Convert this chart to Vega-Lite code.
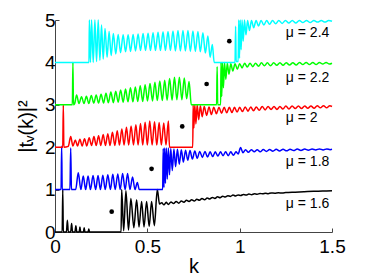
{
"$schema": "https://vega.github.io/schema/vega-lite/v6.json",
"width": 277, "height": 212,
"autosize": {"type": "none"},
"padding": {"left": 55, "top": 20, "right": 36, "bottom": 45},
"config": {"view": {"stroke": null}, "font": "Liberation Sans",
 "axis": {"grid": false, "domainColor": "#444", "tickColor": "#444", "labelColor": "black", "titleColor": "black", "labelFont": "Liberation Sans", "titleFont": "Liberation Sans", "labelFontSize": 19, "titleFontSize": 20, "titleFontWeight": "normal", "tickSize": -4, "labelOverlap": false, "labelFlush": false}},
"datasets": {
"curves": [
{"k":0,"t":0,"m":"1.6"},{"k":0.039,"t":0,"m":"1.6"},{"k":0.042,"t":1.0,"m":"1.6"},{"k":0.045,"t":0,"m":"1.6"},{"k":0.062,"t":0,"m":"1.6"},{"k":0.067,"t":0.28,"m":"1.6"},{"k":0.072,"t":0,"m":"1.6"},{"k":0.085,"t":0,"m":"1.6"},{"k":0.09,"t":0.2,"m":"1.6"},{"k":0.095,"t":0,"m":"1.6"},{"k":0.108,"t":0,"m":"1.6"},{"k":0.113,"t":0.15,"m":"1.6"},{"k":0.118,"t":0,"m":"1.6"},{"k":0.131,"t":0,"m":"1.6"},{"k":0.135,"t":0.12,"m":"1.6"},{"k":0.139,"t":0,"m":"1.6"},{"k":0.154,"t":0,"m":"1.6"},{"k":0.158,"t":0.1,"m":"1.6"},{"k":0.162,"t":0,"m":"1.6"},{"k":0.179,"t":0,"m":"1.6"},{"k":0.183,"t":0.07,"m":"1.6"},{"k":0.187,"t":0,"m":"1.6"},{"k":0.358,"t":0,"m":"1.6"},{"k":0.361,"t":1.0,"m":"1.6"},{"k":0.372,"t":0.03,"m":"1.6"},{"k":0.384,"t":0.97,"m":"1.6"},{"k":0.398,"t":0.05,"m":"1.6"},{"k":0.411,"t":0.79,"m":"1.6"},{"k":0.427,"t":0.1,"m":"1.6"},{"k":0.442,"t":0.76,"m":"1.6"},{"k":0.455,"t":0.12,"m":"1.6"},{"k":0.469,"t":0.72,"m":"1.6"},{"k":0.482,"t":0.12,"m":"1.6"},{"k":0.496,"t":0.72,"m":"1.6"},{"k":0.51,"t":0.13,"m":"1.6"},{"k":0.523,"t":0.72,"m":"1.6"},{"k":0.538,"t":0.15,"m":"1.6"},{"k":0.554,"t":1.0,"m":"1.6"},{"k":0.566,"t":0.66,"m":"1.6"},
{"k":0.578,"t":0.69,"m":"1.6"},{"k":0.59,"t":0.64,"m":"1.6"},{"k":0.602,"t":0.7,"m":"1.6"},{"k":0.614,"t":0.65,"m":"1.6"},{"k":0.628,"t":0.71,"m":"1.6"},{"k":0.642,"t":0.67,"m":"1.6"},{"k":0.656,"t":0.72,"m":"1.6"},{"k":0.67,"t":0.68,"m":"1.6"},{"k":0.684,"t":0.73,"m":"1.6"},{"k":0.698,"t":0.7,"m":"1.6"},{"k":0.712,"t":0.75,"m":"1.6"},{"k":0.726,"t":0.72,"m":"1.6"},{"k":0.74,"t":0.76,"m":"1.6"},{"k":0.754,"t":0.73,"m":"1.6"},{"k":0.768,"t":0.77,"m":"1.6"},{"k":0.782,"t":0.75,"m":"1.6"},{"k":0.796,"t":0.79,"m":"1.6"},{"k":0.81,"t":0.76,"m":"1.6"},{"k":0.824,"t":0.8,"m":"1.6"},{"k":0.838,"t":0.78,"m":"1.6"},{"k":0.852,"t":0.815,"m":"1.6"},{"k":0.866,"t":0.79,"m":"1.6"},{"k":0.88,"t":0.83,"m":"1.6"},{"k":0.894,"t":0.81,"m":"1.6"},{"k":0.908,"t":0.845,"m":"1.6"},{"k":0.922,"t":0.825,"m":"1.6"},{"k":0.936,"t":0.855,"m":"1.6"},{"k":0.95,"t":0.84,"m":"1.6"},{"k":0.964,"t":0.87,"m":"1.6"},{"k":0.978,"t":0.85,"m":"1.6"},{"k":0.992,"t":0.875,"m":"1.6"},{"k":1.006,"t":0.86,"m":"1.6"},{"k":1.02,"t":0.885,"m":"1.6"},{"k":1.035,"t":0.87,"m":"1.6"},{"k":1.05,"t":0.895,"m":"1.6"},{"k":1.065,"t":0.88,"m":"1.6"},{"k":1.08,"t":0.9,"m":"1.6"},{"k":1.095,"t":0.89,"m":"1.6"},{"k":1.11,"t":0.91,"m":"1.6"},{"k":1.125,"t":0.9,"m":"1.6"},{"k":1.14,"t":0.915,"m":"1.6"},{"k":1.155,"t":0.905,"m":"1.6"},{"k":1.17,"t":0.92,"m":"1.6"},{"k":1.19,"t":0.915,"m":"1.6"},{"k":1.21,"t":0.925,"m":"1.6"},{"k":1.23,"t":0.92,"m":"1.6"},{"k":1.25,"t":0.93,"m":"1.6"},{"k":1.3,"t":0.94,"m":"1.6"},{"k":1.35,"t":0.95,"m":"1.6"},{"k":1.4,"t":0.96,"m":"1.6"},{"k":1.45,"t":0.965,"m":"1.6"},{"k":1.5,"t":0.975,"m":"1.6"},
{"k":0,"t":1,"m":"1.8"},{"k":0.033,"t":1,"m":"1.8"},{"k":0.036,"t":2.02,"m":"1.8"},{"k":0.039,"t":1,"m":"1.8"},{"k":0.081,"t":1,"m":"1.8"},{"k":0.085,"t":1.98,"m":"1.8"},{"k":0.089,"t":1,"m":"1.8"},{"k":0.112,"t":1,"m":"1.8"},{"k":0.126,"t":1.4,"m":"1.8"},{"k":0.14,"t":1,"m":"1.8"},{"k":0.153,"t":1.32,"m":"1.8"},{"k":0.166,"t":1,"m":"1.8"},{"k":0.179,"t":1.32,"m":"1.8"},{"k":0.192,"t":1,"m":"1.8"},{"k":0.206,"t":1.33,"m":"1.8"},{"k":0.22,"t":1,"m":"1.8"},{"k":0.233,"t":1.33,"m":"1.8"},{"k":0.246,"t":1,"m":"1.8"},{"k":0.259,"t":1.34,"m":"1.8"},{"k":0.272,"t":1,"m":"1.8"},{"k":0.286,"t":1.35,"m":"1.8"},{"k":0.3,"t":1,"m":"1.8"},{"k":0.313,"t":1.36,"m":"1.8"},{"k":0.326,"t":1,"m":"1.8"},{"k":0.34,"t":1.37,"m":"1.8"},{"k":0.353,"t":1,"m":"1.8"},{"k":0.366,"t":1.38,"m":"1.8"},{"k":0.38,"t":1,"m":"1.8"},{"k":0.393,"t":1.38,"m":"1.8"},{"k":0.406,"t":1,"m":"1.8"},{"k":0.42,"t":1.3,"m":"1.8"},{"k":0.433,"t":1,"m":"1.8"},{"k":0.446,"t":1.17,"m":"1.8"},{"k":0.456,"t":1,"m":"1.8"},{"k":0.583,"t":1,"m":"1.8"},
{"k":0.586,"t":1.97,"m":"1.8"},{"k":0.59,"t":1.05,"m":"1.8"},{"k":0.594,"t":1.98,"m":"1.8"},{"k":0.598,"t":1.15,"m":"1.8"},{"k":0.603,"t":1.98,"m":"1.8"},{"k":0.608,"t":1.25,"m":"1.8"},{"k":0.614,"t":1.98,"m":"1.8"},{"k":0.62,"t":1.35,"m":"1.8"},{"k":0.627,"t":1.97,"m":"1.8"},{"k":0.635,"t":1.45,"m":"1.8"},{"k":0.644,"t":1.96,"m":"1.8"},{"k":0.653,"t":1.54,"m":"1.8"},{"k":0.663,"t":1.95,"m":"1.8"},{"k":0.673,"t":1.6,"m":"1.8"},{"k":0.684,"t":1.94,"m":"1.8"},{"k":0.695,"t":1.65,"m":"1.8"},{"k":0.707,"t":1.93,"m":"1.8"},{"k":0.719,"t":1.69,"m":"1.8"},{"k":0.731,"t":1.92,"m":"1.8"},{"k":0.744,"t":1.72,"m":"1.8"},{"k":0.757,"t":1.91,"m":"1.8"},{"k":0.77,"t":1.74,"m":"1.8"},{"k":0.784,"t":1.9,"m":"1.8"},{"k":0.798,"t":1.76,"m":"1.8"},{"k":0.812,"t":1.9,"m":"1.8"},{"k":0.826,"t":1.77,"m":"1.8"},{"k":0.84,"t":1.89,"m":"1.8"},{"k":0.854,"t":1.78,"m":"1.8"},{"k":0.868,"t":1.89,"m":"1.8"},{"k":0.882,"t":1.79,"m":"1.8"},{"k":0.896,"t":1.89,"m":"1.8"},{"k":0.91,"t":1.8,"m":"1.8"},{"k":0.924,"t":1.89,"m":"1.8"},{"k":0.938,"t":1.8,"m":"1.8"},{"k":0.952,"t":1.89,"m":"1.8"},{"k":0.966,"t":1.81,"m":"1.8"},{"k":0.98,"t":1.89,"m":"1.8"},{"k":0.992,"t":1.84,"m":"1.8"},{"k":1.005,"t":1.99,"m":"1.8"},{"k":1.018,"t":1.87,"m":"1.8"},{"k":1.032,"t":1.94,"m":"1.8"},{"k":1.047,"t":1.88,"m":"1.8"},{"k":1.063,"t":1.94,"m":"1.8"},{"k":1.079,"t":1.89,"m":"1.8"},{"k":1.095,"t":1.94,"m":"1.8"},{"k":1.111,"t":1.89,"m":"1.8"},{"k":1.128,"t":1.945,"m":"1.8"},{"k":1.145,"t":1.9,"m":"1.8"},{"k":1.162,"t":1.945,"m":"1.8"},{"k":1.18,"t":1.905,"m":"1.8"},{"k":1.198,"t":1.95,"m":"1.8"},{"k":1.216,"t":1.91,"m":"1.8"},{"k":1.235,"t":1.95,"m":"1.8"},{"k":1.254,"t":1.915,"m":"1.8"},{"k":1.273,"t":1.95,"m":"1.8"},{"k":1.292,"t":1.92,"m":"1.8"},{"k":1.312,"t":1.955,"m":"1.8"},{"k":1.332,"t":1.925,"m":"1.8"},{"k":1.352,"t":1.955,"m":"1.8"},{"k":1.372,"t":1.93,"m":"1.8"},{"k":1.392,"t":1.955,"m":"1.8"},{"k":1.412,"t":1.935,"m":"1.8"},{"k":1.432,"t":1.96,"m":"1.8"},{"k":1.452,"t":1.935,"m":"1.8"},{"k":1.472,"t":1.96,"m":"1.8"},{"k":1.49,"t":1.94,"m":"1.8"},{"k":1.5,"t":1.95,"m":"1.8"},
{"k":0,"t":2,"m":"2"},{"k":0.042,"t":2,"m":"2"},{"k":0.045,"t":3.0,"m":"2"},{"k":0.048,"t":2,"m":"2"},{"k":0.072,"t":2.02,"m":"2"},{"k":0.085,"t":2.25,"m":"2"},{"k":0.097,"t":2.03,"m":"2"},{"k":0.11,"t":2.17,"m":"2"},{"k":0.122,"t":2.03,"m":"2"},{"k":0.135,"t":2.19,"m":"2"},{"k":0.147,"t":2.03,"m":"2"},{"k":0.16,"t":2.2,"m":"2"},{"k":0.172,"t":2.03,"m":"2"},{"k":0.185,"t":2.22,"m":"2"},{"k":0.198,"t":2.04,"m":"2"},{"k":0.211,"t":2.25,"m":"2"},{"k":0.223,"t":2.04,"m":"2"},{"k":0.236,"t":2.27,"m":"2"},{"k":0.248,"t":2.04,"m":"2"},{"k":0.261,"t":2.3,"m":"2"},{"k":0.273,"t":2.04,"m":"2"},{"k":0.286,"t":2.32,"m":"2"},{"k":0.298,"t":2.04,"m":"2"},{"k":0.311,"t":2.35,"m":"2"},{"k":0.324,"t":2.04,"m":"2"},{"k":0.337,"t":2.39,"m":"2"},{"k":0.349,"t":2.05,"m":"2"},{"k":0.362,"t":2.43,"m":"2"},{"k":0.374,"t":2.05,"m":"2"},{"k":0.387,"t":2.47,"m":"2"},{"k":0.399,"t":2.05,"m":"2"},{"k":0.412,"t":2.5,"m":"2"},{"k":0.425,"t":2.05,"m":"2"},{"k":0.438,"t":2.53,"m":"2"},{"k":0.45,"t":2.05,"m":"2"},{"k":0.463,"t":2.56,"m":"2"},{"k":0.475,"t":2.05,"m":"2"},{"k":0.488,"t":2.59,"m":"2"},{"k":0.5,"t":2.05,"m":"2"},{"k":0.513,"t":2.62,"m":"2"},{"k":0.526,"t":2.05,"m":"2"},{"k":0.539,"t":2.6,"m":"2"},{"k":0.551,"t":2.05,"m":"2"},{"k":0.564,"t":2.58,"m":"2"},{"k":0.576,"t":2.05,"m":"2"},{"k":0.589,"t":2.57,"m":"2"},{"k":0.601,"t":2.05,"m":"2"},{"k":0.614,"t":2.62,"m":"2"},{"k":0.62,"t":2,"m":"2"},{"k":0.746,"t":2,"m":"2"},
{"k":0.748,"t":3.0,"m":"2"},{"k":0.752,"t":2.45,"m":"2"},{"k":0.757,"t":3.0,"m":"2"},{"k":0.763,"t":2.55,"m":"2"},{"k":0.77,"t":3.0,"m":"2"},{"k":0.778,"t":2.65,"m":"2"},{"k":0.787,"t":2.98,"m":"2"},{"k":0.797,"t":2.72,"m":"2"},{"k":0.808,"t":2.96,"m":"2"},{"k":0.821,"t":2.75,"m":"2"},{"k":0.834,"t":2.95,"m":"2"},{"k":0.847,"t":2.77,"m":"2"},{"k":0.86,"t":2.94,"m":"2"},{"k":0.874,"t":2.79,"m":"2"},{"k":0.888,"t":2.94,"m":"2"},{"k":0.902,"t":2.8,"m":"2"},{"k":0.916,"t":2.94,"m":"2"},{"k":0.93,"t":2.81,"m":"2"},{"k":0.944,"t":2.94,"m":"2"},{"k":0.958,"t":2.82,"m":"2"},{"k":0.972,"t":2.94,"m":"2"},{"k":0.986,"t":2.83,"m":"2"},{"k":1.0,"t":2.94,"m":"2"},{"k":1.015,"t":2.84,"m":"2"},{"k":1.03,"t":2.95,"m":"2"},{"k":1.045,"t":2.85,"m":"2"},{"k":1.06,"t":2.95,"m":"2"},{"k":1.075,"t":2.86,"m":"2"},{"k":1.09,"t":2.95,"m":"2"},{"k":1.106,"t":2.87,"m":"2"},{"k":1.122,"t":2.96,"m":"2"},{"k":1.138,"t":2.88,"m":"2"},{"k":1.154,"t":2.96,"m":"2"},{"k":1.17,"t":2.89,"m":"2"},{"k":1.186,"t":2.96,"m":"2"},{"k":1.202,"t":2.89,"m":"2"},{"k":1.218,"t":2.96,"m":"2"},{"k":1.234,"t":2.9,"m":"2"},{"k":1.25,"t":2.97,"m":"2"},{"k":1.267,"t":2.9,"m":"2"},{"k":1.284,"t":2.97,"m":"2"},{"k":1.301,"t":2.91,"m":"2"},{"k":1.318,"t":2.97,"m":"2"},{"k":1.335,"t":2.91,"m":"2"},{"k":1.352,"t":2.97,"m":"2"},{"k":1.369,"t":2.92,"m":"2"},{"k":1.386,"t":2.97,"m":"2"},{"k":1.403,"t":2.92,"m":"2"},{"k":1.42,"t":2.98,"m":"2"},{"k":1.437,"t":2.93,"m":"2"},{"k":1.454,"t":2.98,"m":"2"},{"k":1.471,"t":2.93,"m":"2"},{"k":1.488,"t":2.98,"m":"2"},{"k":1.5,"t":2.96,"m":"2"},
{"k":0,"t":3,"m":"2.2"},{"k":0.094,"t":3,"m":"2.2"},{"k":0.097,"t":4.0,"m":"2.2"},{"k":0.1,"t":3,"m":"2.2"},{"k":0.106,"t":3.02,"m":"2.2"},{"k":0.117,"t":3.23,"m":"2.2"},{"k":0.13,"t":3.03,"m":"2.2"},{"k":0.1435,"t":3.19,"m":"2.2"},{"k":0.157,"t":3.03,"m":"2.2"},{"k":0.17,"t":3.2,"m":"2.2"},{"k":0.183,"t":3.03,"m":"2.2"},{"k":0.1965,"t":3.22,"m":"2.2"},{"k":0.21,"t":3.04,"m":"2.2"},{"k":0.223,"t":3.23,"m":"2.2"},{"k":0.236,"t":3.04,"m":"2.2"},{"k":0.2495,"t":3.25,"m":"2.2"},{"k":0.263,"t":3.04,"m":"2.2"},{"k":0.276,"t":3.27,"m":"2.2"},{"k":0.289,"t":3.05,"m":"2.2"},{"k":0.3025,"t":3.3,"m":"2.2"},{"k":0.316,"t":3.05,"m":"2.2"},{"k":0.329,"t":3.32,"m":"2.2"},{"k":0.342,"t":3.06,"m":"2.2"},{"k":0.3555,"t":3.35,"m":"2.2"},{"k":0.369,"t":3.06,"m":"2.2"},{"k":0.382,"t":3.37,"m":"2.2"},{"k":0.395,"t":3.07,"m":"2.2"},{"k":0.4085,"t":3.4,"m":"2.2"},{"k":0.422,"t":3.07,"m":"2.2"},{"k":0.435,"t":3.42,"m":"2.2"},{"k":0.448,"t":3.08,"m":"2.2"},{"k":0.4615,"t":3.45,"m":"2.2"},{"k":0.475,"t":3.08,"m":"2.2"},{"k":0.488,"t":3.47,"m":"2.2"},{"k":0.501,"t":3.09,"m":"2.2"},{"k":0.5145,"t":3.5,"m":"2.2"},{"k":0.528,"t":3.09,"m":"2.2"},{"k":0.541,"t":3.53,"m":"2.2"},{"k":0.554,"t":3.1,"m":"2.2"},{"k":0.5675,"t":3.56,"m":"2.2"},{"k":0.581,"t":3.1,"m":"2.2"},{"k":0.594,"t":3.58,"m":"2.2"},{"k":0.607,"t":3.11,"m":"2.2"},{"k":0.6205,"t":3.62,"m":"2.2"},{"k":0.634,"t":3.11,"m":"2.2"},{"k":0.647,"t":3.65,"m":"2.2"},{"k":0.66,"t":3.12,"m":"2.2"},{"k":0.6735,"t":3.65,"m":"2.2"},{"k":0.687,"t":3.12,"m":"2.2"},{"k":0.7,"t":3.63,"m":"2.2"},{"k":0.713,"t":3.14,"m":"2.2"},{"k":0.726,"t":3.55,"m":"2.2"},{"k":0.738,"t":3,"m":"2.2"},{"k":0.875,"t":3,"m":"2.2"},{"k":0.878,"t":3.9,"m":"2.2"},{"k":0.881,"t":3,"m":"2.2"},{"k":0.897,"t":3,"m":"2.2"},
{"k":0.899,"t":4.0,"m":"2.2"},{"k":0.903,"t":3.2,"m":"2.2"},{"k":0.907,"t":4.0,"m":"2.2"},{"k":0.912,"t":3.4,"m":"2.2"},{"k":0.918,"t":4.0,"m":"2.2"},{"k":0.925,"t":3.6,"m":"2.2"},{"k":0.933,"t":3.98,"m":"2.2"},{"k":0.942,"t":3.72,"m":"2.2"},{"k":0.952,"t":3.97,"m":"2.2"},{"k":0.963,"t":3.8,"m":"2.2"},{"k":0.975,"t":3.97,"m":"2.2"},{"k":0.987,"t":3.84,"m":"2.2"},{"k":1.0,"t":3.97,"m":"2.2"},{"k":1.013,"t":3.87,"m":"2.2"},{"k":1.027,"t":3.98,"m":"2.2"},{"k":1.041,"t":3.89,"m":"2.2"},{"k":1.056,"t":3.98,"m":"2.2"},{"k":1.071,"t":3.9,"m":"2.2"},{"k":1.086,"t":3.98,"m":"2.2"},{"k":1.102,"t":3.91,"m":"2.2"},{"k":1.118,"t":3.99,"m":"2.2"},{"k":1.134,"t":3.92,"m":"2.2"},{"k":1.15,"t":3.99,"m":"2.2"},{"k":1.167,"t":3.92,"m":"2.2"},{"k":1.184,"t":3.99,"m":"2.2"},{"k":1.201,"t":3.93,"m":"2.2"},{"k":1.218,"t":3.99,"m":"2.2"},{"k":1.235,"t":3.93,"m":"2.2"},{"k":1.252,"t":3.99,"m":"2.2"},{"k":1.27,"t":3.94,"m":"2.2"},{"k":1.288,"t":3.99,"m":"2.2"},{"k":1.306,"t":3.94,"m":"2.2"},{"k":1.324,"t":4.0,"m":"2.2"},{"k":1.342,"t":3.95,"m":"2.2"},{"k":1.36,"t":4.0,"m":"2.2"},{"k":1.378,"t":3.95,"m":"2.2"},{"k":1.396,"t":4.0,"m":"2.2"},{"k":1.414,"t":3.95,"m":"2.2"},{"k":1.432,"t":4.0,"m":"2.2"},{"k":1.45,"t":3.96,"m":"2.2"},{"k":1.468,"t":4.0,"m":"2.2"},{"k":1.486,"t":3.96,"m":"2.2"},{"k":1.5,"t":3.98,"m":"2.2"},
{"k":0,"t":4,"m":"2.4"},{"k":0.184,"t":4,"m":"2.4"},{"k":0.186,"t":5.0,"m":"2.4"},{"k":0.192,"t":4.0,"m":"2.4"},{"k":0.198,"t":5.0,"m":"2.4"},{"k":0.207,"t":4.0,"m":"2.4"},{"k":0.216,"t":5.0,"m":"2.4"},{"k":0.225,"t":4.02,"m":"2.4"},{"k":0.234,"t":5.0,"m":"2.4"},{"k":0.243,"t":4.05,"m":"2.4"},{"k":0.252,"t":4.88,"m":"2.4"},{"k":0.261,"t":4.08,"m":"2.4"},{"k":0.271,"t":4.8,"m":"2.4"},{"k":0.282,"t":4.12,"m":"2.4"},{"k":0.293,"t":4.73,"m":"2.4"},{"k":0.304,"t":4.16,"m":"2.4"},{"k":0.316,"t":4.68,"m":"2.4"},{"k":0.329,"t":4.2,"m":"2.4"},{"k":0.342,"t":4.66,"m":"2.4"},{"k":0.355,"t":4.23,"m":"2.4"},{"k":0.369,"t":4.65,"m":"2.4"},{"k":0.382,"t":4.25,"m":"2.4"},{"k":0.396,"t":4.65,"m":"2.4"},{"k":0.409,"t":4.26,"m":"2.4"},{"k":0.423,"t":4.66,"m":"2.4"},{"k":0.436,"t":4.27,"m":"2.4"},{"k":0.45,"t":4.67,"m":"2.4"},{"k":0.463,"t":4.28,"m":"2.4"},{"k":0.477,"t":4.68,"m":"2.4"},{"k":0.49,"t":4.28,"m":"2.4"},{"k":0.504,"t":4.69,"m":"2.4"},{"k":0.517,"t":4.28,"m":"2.4"},{"k":0.531,"t":4.7,"m":"2.4"},{"k":0.544,"t":4.28,"m":"2.4"},{"k":0.558,"t":4.71,"m":"2.4"},{"k":0.571,"t":4.28,"m":"2.4"},{"k":0.585,"t":4.72,"m":"2.4"},{"k":0.598,"t":4.28,"m":"2.4"},{"k":0.612,"t":4.73,"m":"2.4"},{"k":0.625,"t":4.28,"m":"2.4"},{"k":0.639,"t":4.74,"m":"2.4"},{"k":0.652,"t":4.27,"m":"2.4"},{"k":0.666,"t":4.75,"m":"2.4"},{"k":0.679,"t":4.27,"m":"2.4"},{"k":0.693,"t":4.75,"m":"2.4"},{"k":0.706,"t":4.27,"m":"2.4"},{"k":0.72,"t":4.75,"m":"2.4"},{"k":0.733,"t":4.26,"m":"2.4"},{"k":0.747,"t":4.74,"m":"2.4"},{"k":0.76,"t":4.26,"m":"2.4"},{"k":0.774,"t":4.73,"m":"2.4"},{"k":0.787,"t":4.25,"m":"2.4"},{"k":0.801,"t":4.7,"m":"2.4"},{"k":0.814,"t":4.22,"m":"2.4"},{"k":0.828,"t":4.62,"m":"2.4"},{"k":0.84,"t":4.12,"m":"2.4"},{"k":0.852,"t":4.42,"m":"2.4"},{"k":0.862,"t":4,"m":"2.4"},{"k":0.975,"t":4,"m":"2.4"},
{"k":0.978,"t":4.85,"m":"2.4"},{"k":0.981,"t":4.02,"m":"2.4"},{"k":0.992,"t":4.02,"m":"2.4"},{"k":0.995,"t":5.0,"m":"2.4"},{"k":0.999,"t":4.1,"m":"2.4"},{"k":1.003,"t":5.0,"m":"2.4"},{"k":1.008,"t":4.3,"m":"2.4"},{"k":1.013,"t":5.0,"m":"2.4"},{"k":1.019,"t":4.5,"m":"2.4"},{"k":1.026,"t":5.0,"m":"2.4"},{"k":1.034,"t":4.65,"m":"2.4"},{"k":1.043,"t":4.99,"m":"2.4"},{"k":1.053,"t":4.75,"m":"2.4"},{"k":1.064,"t":4.99,"m":"2.4"},{"k":1.076,"t":4.82,"m":"2.4"},{"k":1.089,"t":4.99,"m":"2.4"},{"k":1.102,"t":4.86,"m":"2.4"},{"k":1.116,"t":4.99,"m":"2.4"},{"k":1.131,"t":4.88,"m":"2.4"},{"k":1.146,"t":4.99,"m":"2.4"},{"k":1.162,"t":4.9,"m":"2.4"},{"k":1.178,"t":4.99,"m":"2.4"},{"k":1.195,"t":4.91,"m":"2.4"},{"k":1.212,"t":4.99,"m":"2.4"},{"k":1.23,"t":4.92,"m":"2.4"},{"k":1.248,"t":4.99,"m":"2.4"},{"k":1.266,"t":4.93,"m":"2.4"},{"k":1.285,"t":4.99,"m":"2.4"},{"k":1.304,"t":4.93,"m":"2.4"},{"k":1.323,"t":4.99,"m":"2.4"},{"k":1.342,"t":4.94,"m":"2.4"},{"k":1.362,"t":4.99,"m":"2.4"},{"k":1.382,"t":4.94,"m":"2.4"},{"k":1.402,"t":4.99,"m":"2.4"},{"k":1.422,"t":4.95,"m":"2.4"},{"k":1.442,"t":4.99,"m":"2.4"},{"k":1.462,"t":4.95,"m":"2.4"},{"k":1.482,"t":4.99,"m":"2.4"},{"k":1.5,"t":4.97,"m":"2.4"}
],
"dots": [
{"k":0.307,"t":0.48},{"k":0.523,"t":1.49},{"k":0.689,"t":2.49},{"k":0.821,"t":3.49},{"k":0.944,"t":4.5}
],
"labels": [
{"k":1.25,"t":0.67,"label":"μ = 1.6"},{"k":1.25,"t":1.66,"label":"μ = 1.8"},{"k":1.25,"t":2.68,"label":"μ = 2"},{"k":1.25,"t":3.64,"label":"μ = 2.2"},{"k":1.25,"t":4.69,"label":"μ = 2.4"}
]
},
"layer": [
{"data": {"name": "curves"},
 "mark": {"type": "line", "interpolate": "monotone", "strokeWidth": 1.5},
 "encoding": {
  "x": {"field": "k", "type": "quantitative", "scale": {"domain": [0, 1.5], "nice": false}, "axis": {"values": [0, 0.5, 1, 1.5], "format": "~g", "title": "k", "labelPadding": 9, "titlePadding": 0}},
  "y": {"field": "t", "type": "quantitative", "scale": {"domain": [0, 5], "nice": false}, "axis": {"values": [0, 1, 2, 3, 4, 5], "title": "|tᵥ(k)|²", "labelPadding": 4, "titlePadding": 8}},
  "color": {"field": "m", "type": "nominal", "scale": {"domain": ["1.6", "1.8", "2", "2.2", "2.4"], "range": ["#000000", "#0000ff", "#ff0000", "#00ff00", "#00ffff"]}, "legend": null}
 }},
{"data": {"name": "dots"},
 "mark": {"type": "point", "filled": true, "size": 22, "color": "#000000", "opacity": 1},
 "encoding": {"x": {"field": "k", "type": "quantitative"}, "y": {"field": "t", "type": "quantitative"}}},
{"data": {"name": "labels"},
 "mark": {"type": "text", "align": "left", "baseline": "middle", "fontSize": 14, "font": "Liberation Sans", "color": "#000000"},
 "encoding": {"x": {"field": "k", "type": "quantitative"}, "y": {"field": "t", "type": "quantitative"}, "text": {"field": "label"}}}
]
}
